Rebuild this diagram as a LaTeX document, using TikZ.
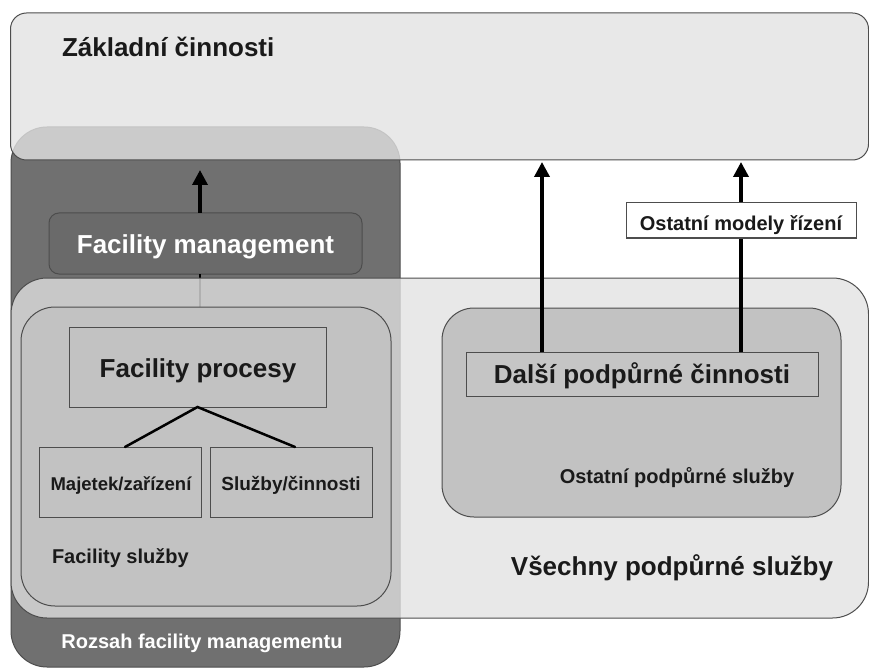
\documentclass[tikz,border=0pt]{standalone}
\usepackage{fontspec}
\setmainfont{Liberation Sans}
\usetikzlibrary{arrows.meta,calc}

\definecolor{edgegray}{HTML}{4D4D4D}
\definecolor{darkfill}{HTML}{707070}
\definecolor{fmfill}{HTML}{6A6A6A}
\definecolor{palefill}{HTML}{E2E2E2}
\definecolor{midfill}{HTML}{C2C2C2}
\definecolor{inktext}{HTML}{1A1A1A}

\newcommand\fzbig{\fontsize{26}{30}\selectfont\bfseries}
\newcommand\fzmid{\fontsize{20}{24}\selectfont\bfseries}
\newcommand\fzsmall{\fontsize{18.5}{22}\selectfont\bfseries}

\begin{document}
\begin{tikzpicture}[x=1pt,y=-1pt,
  box/.style={draw=edgegray, line width=1pt, inner sep=0pt, outer sep=0pt},
  label/.style={inner sep=0pt, outer sep=0pt, text=inktext},
  arr/.style={line width=3.5pt, -{Triangle[length=15pt,width=15pt]}},
  link/.style={line width=2.5pt}
]
\useasboundingbox (0,0) rectangle (869,668);

% scope of facility management (dark column)
\node[box, fill=darkfill, rounded corners=36pt,
      minimum width=389pt, minimum height=540pt] (rozsah) at (205.5,397) {};
\node[box, fill=fmfill, rounded corners=10pt,
      minimum width=313pt, minimum height=61pt] (fm) at (205.5,243.5) {};
\node[label, text=white, anchor=base] (fmtxt) at (205.5,253) {\fzbig Facility management};
\node[label, text=white, anchor=base] (rozsahtxt) at (202,648) {\fzmid Rozsah facility managementu};

\coordinate (col) at (200,0);
\coordinate (fmtip) at (200,170);
\draw[arr] (fm.north -| col) -- (fmtip);

% core activities (translucent band on top)
\node[box, fill=palefill, fill opacity=0.8, rounded corners=16pt,
      minimum width=858pt, minimum height=147pt] (zak) at (439.5,86.5) {};
\node[label, anchor=base west] (zaktxt) at (62,57) {\fzbig Základní činnosti};

% facility processes, placed below the translucent support band
\node[box, draw=none, minimum width=257pt, minimum height=80pt] (procpos) at (197.5,367) {};
\draw[link] (fm.south -| col) -- (procpos.north -| col);

% all support services (translucent)
\node[box, fill=palefill, fill opacity=0.78, rounded corners=36pt,
      minimum width=857.5pt, minimum height=340pt] (vse) at (439.75,448) {};
\node[label, anchor=base] (vsetxt) at (672,575) {\fzbig Všechny podpůrné služby};

% facility services
\node[box, fill=midfill, rounded corners=34pt,
      minimum width=370pt, minimum height=299pt] (fs) at (206,456.5) {};
\node[box, minimum width=257pt, minimum height=80pt] (proc) at (197.5,367) {};
\node[label, anchor=base] (proctxt) at (198,377) {\fzbig Facility procesy};
\node[box, minimum width=162pt, minimum height=70pt] (maj) at (120,482) {};
\node[label, anchor=base] (majtxt) at (121,490) {\fzsmall Majetek/zařízení};
\node[box, minimum width=162pt, minimum height=70pt] (slu) at (291,482) {};
\node[label, anchor=base] (slutxt) at (291,490) {\fontsize{19}{23}\selectfont\bfseries Služby/činnosti};
\draw[link, line cap=round] ($(maj.north)+(5,0)$) -- (proc.south) -- ($(slu.north)+(4,0)$);
\node[label, anchor=base west] (fstxt) at (52,563) {\fzmid Facility služby};

% other support services
\node[box, fill=midfill, rounded corners=32pt,
      minimum width=399pt, minimum height=209pt] (ost) at (641.5,412.5) {};
\node[box, fill=midfill!95!white, minimum width=352pt, minimum height=44pt] (dal) at (642,374) {};
\node[label, anchor=base] (daltxt) at (642,383) {\fzbig Další podpůrné činnosti};
\node[label, anchor=base] (osttxt) at (677,483) {\fzmid Ostatní podpůrné služby};

\coordinate (a1) at (542,0);
\coordinate (a2) at (741,0);
\draw[arr, shorten >=2pt] (dal.north -| a1) -- (zak.south -| a1);
\draw[arr, shorten >=2pt] (dal.north -| a2) -- (zak.south -| a2);

\node[box, fill=white, minimum width=230pt, minimum height=35pt] (omr) at (741,220.5) {};
\node[label, anchor=base] (omrtxt) at (741,230) {\fzmid Ostatní modely řízení};
\end{tikzpicture}
\end{document}
